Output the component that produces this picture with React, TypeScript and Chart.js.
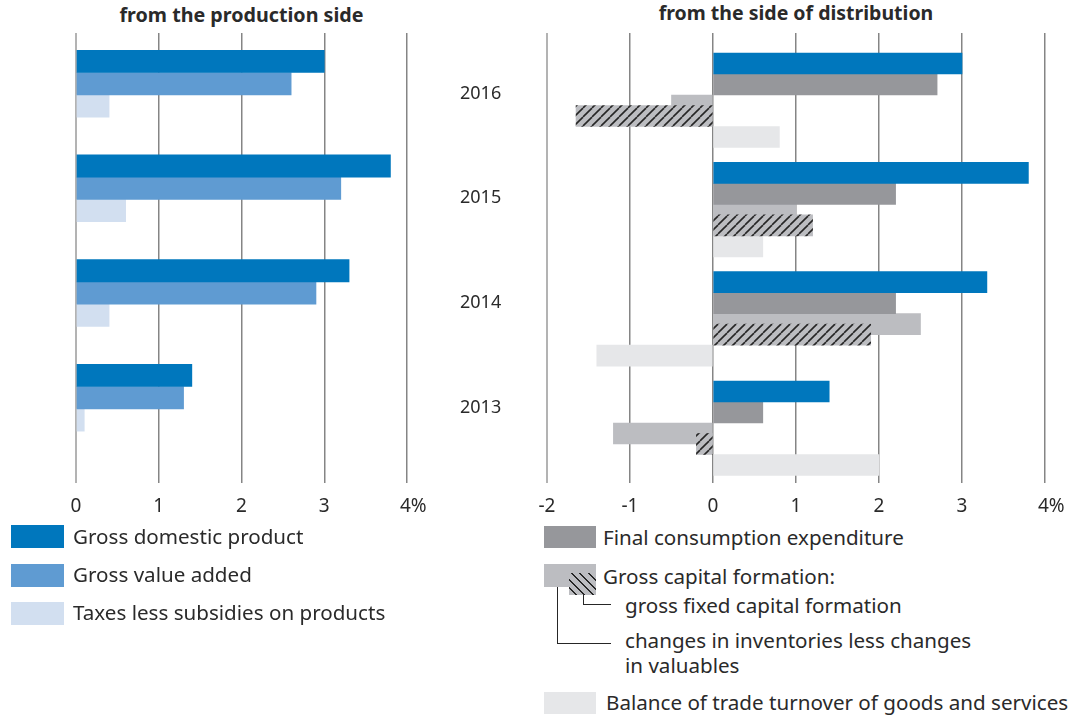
import React, { useEffect, useRef } from 'react';
import { Chart, registerables } from 'chart.js';

Chart.register(...registerables);

const YEARS = ['2016', '2015', '2014', '2013'];
// from the production side
const GDP = [3.0, 3.8, 3.3, 1.4];
const GVA = [2.6, 3.2, 2.9, 1.3];
const TAXES = [0.4, 0.6, 0.4, 0.1];
// from the side of distribution
const FCE = [2.7, 2.2, 2.2, 0.6];
const GCF = [-0.5, 1.0, 2.5, -1.2];
const GFCF = [-1.65, 1.2, 1.9, -0.2];
const BALANCE = [0.8, 0.6, -1.4, 2.0];

const LEFT_TICKS = [0, 1, 2, 3, 4];
const RIGHT_TICKS = [-2, -1, 0, 1, 2, 3, 4];

const C_GDP = '#0077bd';
const C_GVA = '#5f9bd2';
const C_TAX = '#d2dff0';
const C_FCE = '#96979b';
const C_GCF = '#bcbdc1';
const C_BAL = '#e6e7e9';
const C_TEXT = '#2a2a2a';
const FONT = "'Noto Sans', sans-serif";

const pts = (vals: number[]) => vals.map((v, i) => ({ x: v, y: i }));

function makeHatch(): CanvasPattern | string {
  const s = 9;
  const c = document.createElement('canvas');
  c.width = s;
  c.height = s;
  const g = c.getContext('2d');
  if (!g) return C_GCF;
  g.fillStyle = C_GCF;
  g.fillRect(0, 0, s, s);
  g.strokeStyle = '#262626';
  g.lineWidth = 1.6;
  for (const k of [-1, 0, 1]) {
    g.beginPath();
    g.moveTo(k * s, s);
    g.lineTo(k * s + s, 0);
    g.stroke();
  }
  return g.createPattern(c, 'repeat') || C_GCF;
}

const tickLabel = (max: number) => (v: any) =>
  v === max ? '\u2002\u2009' + v + '%' : String(v);

const gridStyle = {
  color: (ctx: any) => (ctx.index === 0 ? '#b3b3b3' : '#858585'),
  lineWidth: (ctx: any) => (ctx.index === 0 ? 2 : 1.5),
  drawTicks: false,
};

const xAxis = (ticks: number[]) => ({
  type: 'linear' as const,
  position: 'bottom' as const,
  min: ticks[0],
  max: ticks[ticks.length - 1],
  grid: gridStyle,
  border: { display: false },
  afterBuildTicks: (scale: any) => {
    scale.ticks = ticks.map((v) => ({ value: v }));
  },
  afterFit: (scale: any) => {
    scale.height = 40;
  },
  ticks: {
    padding: 12,
    color: C_TEXT,
    font: { family: FONT, size: 19 },
    callback: tickLabel(ticks[ticks.length - 1]),
    maxRotation: 0,
    autoSkip: false,
  },
});

// lays the distribution bars out: capital formation overlapped by its fixed part
const distributionLayout = {
  id: 'distributionLayout',
  afterDatasetsUpdate(chart: any) {
    const meta = (k: string) =>
      chart.getDatasetMeta(chart.data.datasets.findIndex((d: any) => d.key === k));
    const gdp = meta('gdp');
    const fce = meta('fce');
    const gcf = meta('gcf');
    const gf = meta('gfcf');
    const bal = meta('bal');
    gcf.data.forEach((el: any, i: number) => {
      const t = el.height;
      gdp.data[i].y -= t / 4;
      fce.data[i].y -= t / 4;
      el.y -= t / 4;
      bal.data[i].y += t / 4;
      gf.data[i].y = el.y + t / 2;
      gf.data[i].height = t;
    });
  },
};

export default function App() {
  const leftRef = useRef<HTMLCanvasElement>(null);
  const rightRef = useRef<HTMLCanvasElement>(null);

  useEffect(() => {
    if (!leftRef.current || !rightRef.current) return;
    const bar = { borderWidth: 0, categoryPercentage: 1, barPercentage: 1 };

    const left = new Chart(leftRef.current, {
      type: 'bar',
      data: {
        datasets: [
          { label: 'Gross domestic product', data: pts(GDP), backgroundColor: C_GDP, barThickness: 22.3, ...bar },
          { label: 'Gross value added', data: pts(GVA), backgroundColor: C_GVA, barThickness: 22.3, ...bar },
          { label: 'Taxes less subsidies on products', data: pts(TAXES), backgroundColor: C_TAX, barThickness: 22.3, ...bar },
        ],
      } as any,
      options: {
        indexAxis: 'y',
        responsive: false,
        animation: false,
        events: [],
        layout: { padding: { left: 76, top: 33, right: 0, bottom: 0 } },
        plugins: { legend: { display: false }, tooltip: { enabled: false } },
        scales: {
          x: xAxis(LEFT_TICKS),
          y: {
            type: 'linear',
            position: 'right',
            reverse: true,
            offset: false,
            min: -0.484,
            max: 3.815,
            grid: { display: false, drawTicks: false, offset: false },
            border: { display: false },
            afterBuildTicks: (scale: any) => {
              scale.ticks = YEARS.map((_, i) => ({ value: i }));
            },
            afterFit: (scale: any) => {
              scale.width = 113;
              scale.paddingTop = 0;
              scale.paddingBottom = 0;
            },
            ticks: {
              padding: 53,
              labelOffset: 10,
              color: C_TEXT,
              font: { family: FONT, size: 18 },
              callback: (v: any) => YEARS[v] ?? '',
            },
          },
        },
      } as any,
    });

    const hatch = makeHatch();
    const right = new Chart(rightRef.current, {
      type: 'bar',
      data: {
        datasets: [
          { key: 'gdp', label: 'Gross domestic product', data: pts(GDP), backgroundColor: C_GDP, order: 1, ...bar, barThickness: 21 },
          { key: 'fce', label: 'Final consumption expenditure', data: pts(FCE), backgroundColor: C_FCE, order: 1, ...bar, barThickness: 21 },
          { key: 'gcf', label: 'Gross capital formation', data: pts(GCF), backgroundColor: C_GCF, order: 1, ...bar, barThickness: 21 },
          { key: 'bal', label: 'Balance of trade turnover of goods and services', data: pts(BALANCE), backgroundColor: C_BAL, order: 1, ...bar, barThickness: 21 },
          { key: 'gfcf', label: 'gross fixed capital formation', data: pts(GFCF), backgroundColor: hatch, order: 0, grouped: false, ...bar, barThickness: 21 },
        ],
      } as any,
      options: {
        indexAxis: 'y',
        responsive: false,
        animation: false,
        events: [],
        layout: { padding: { left: 27, top: 33, right: 37, bottom: 0 } },
        plugins: { legend: { display: false }, tooltip: { enabled: false } },
        scales: {
          x: xAxis(RIGHT_TICKS),
          y: {
            type: 'linear',
            display: false,
            reverse: true,
            offset: false,
            grid: { offset: false },
            min: -0.615,
            max: 3.501,
          },
        },
      } as any,
      plugins: [distributionLayout],
    });

    return () => {
      left.destroy();
      right.destroy();
    };
  }, []);

  const abs = (s: React.CSSProperties): React.CSSProperties => ({ position: 'absolute', ...s });
  const text = (left: number, top: number, content: React.ReactNode, extra: React.CSSProperties = {}) => (
    <div style={abs({ left, top, fontSize: 20.6, lineHeight: '24px', whiteSpace: 'nowrap', ...extra })}>{content}</div>
  );
  const sw = (left: number, top: number, w: number, h: number, bg: string) => (
    <div style={abs({ left, top, width: w, height: h, background: bg })} />
  );
  const line = (left: number, top: number, w: number, h: number) => (
    <div style={abs({ left, top, width: w, height: h, background: '#262626' })} />
  );
  const hatchCss = `repeating-linear-gradient(45deg, ${C_GCF} 0px, ${C_GCF} 4.4px, #262626 4.4px, #262626 6px)`;

  return (
    <div
      style={abs({
        left: 0,
        top: 0,
        width: 1082,
        height: 719,
        background: '#fff',
        overflow: 'hidden',
        fontFamily: FONT,
        color: C_TEXT,
      })}
    >
      <div style={abs({ left: 76, top: 3, width: 331, textAlign: 'center', fontWeight: 700, fontSize: 19.7, lineHeight: '24px' })}>
        from the production side
      </div>
      <div style={abs({ left: 547, top: 1, width: 498, textAlign: 'center', fontWeight: 700, fontSize: 19.5, lineHeight: '24px' })}>
        from the side of distribution
      </div>

      <canvas ref={leftRef} width={520} height={523} style={abs({ left: 0, top: 0, width: 520, height: 523 })} />
      <canvas ref={rightRef} width={562} height={523} style={abs({ left: 520, top: 0, width: 562, height: 523 })} />

      {/* left legend */}
      {sw(11, 525, 53, 23, C_GDP)}
      {text(73, 524, 'Gross domestic product')}
      {sw(11, 564, 53, 23, C_GVA)}
      {text(73, 562, 'Gross value added')}
      {sw(11, 602, 53, 23, C_TAX)}
      {text(73, 600, 'Taxes less subsidies on products')}

      {/* right legend */}
      {sw(544, 526, 52, 22, C_FCE)}
      {text(603, 525, 'Final consumption expenditure')}
      {sw(544, 564, 52, 23, C_GCF)}
      {sw(569, 573, 27, 22, hatchCss)}
      {text(603, 564, 'Gross capital formation:')}
      {line(583, 595, 1.3, 10)}
      {line(583, 604, 28, 1.3)}
      {text(625, 593, 'gross fixed capital formation')}
      {line(557, 587, 1.3, 57)}
      {line(557, 643, 54, 1.3)}
      {text(625, 628, 'changes in inventories less changes')}
      {text(625, 653, 'in valuables')}
      {sw(544, 692, 52, 22, C_BAL)}
      {text(606, 690, 'Balance of trade turnover of goods and services')}
    </div>
  );
}
